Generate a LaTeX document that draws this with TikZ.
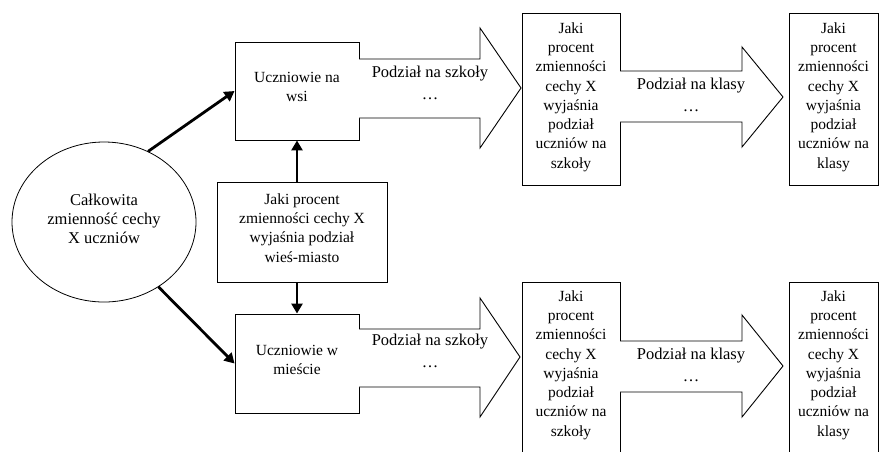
\documentclass[tikz,border=0pt]{standalone}
\usepackage{fontspec}
\setmainfont{Liberation Serif}
\usetikzlibrary{arrows.meta,shapes.geometric}
\begin{document}
\begin{tikzpicture}[x=1pt,y=-1pt,
  box/.style={draw,line width=0.9pt,inner sep=0pt},
  txt/.style={align=center,inner sep=0pt,font=\fontsize{15.5}{19.3}\selectfont},
  lbl/.style={align=center,inner sep=0pt,font=\fontsize{16.5}{22}\selectfont},
  conn/.style={line width=2.8pt,-{Triangle[length=10pt,width=11pt]}},
  blk/.style={draw,line width=0.9pt,fill=white,line join=miter}]
\useasboundingbox (0,0) rectangle (882,451);
\clip (0,0) rectangle (882,451);

% ellipse
\node[ellipse,draw,line width=0.8pt,inner sep=0pt,minimum width=184pt,minimum height=160pt] (ell) at (104,222) {};
\node[txt,font=\fontsize{16.5}{19.3}\selectfont] (ellt) at (104,219) {Całkowita\\zmienność cechy\\X uczniów};

% left column boxes
\node[box,minimum width=124pt,minimum height=98pt] (wsi) at (297,91) {};
\node[txt] (wsit) at (297,87) {Uczniowie na\\wsi};
\node[box,minimum width=170pt,minimum height=100pt] (mid) at (302,232) {};
\node[txt] (midt) at (302,228) {Jaki procent\\zmienności cechy X\\wyjaśnia podział\\wieś-miasto};
\node[box,minimum width=124pt,minimum height=99pt] (miasto) at (297,363.5) {};
\node[txt] (miastot) at (297,360) {Uczniowie w\\mieście};

% tall boxes
\node[box,minimum width=98pt,minimum height=172pt] (s1) at (571,99) {};
\node[txt] (s1t) at (571,97) {Jaki\\procent\\zmienności\\cechy X\\wyjaśnia\\podział\\uczniów na\\szkoły};
\node[box,minimum width=89pt,minimum height=172pt] (k1) at (833.5,99) {};
\node[txt] (k1t) at (833.5,97) {Jaki\\procent\\zmienności\\cechy X\\wyjaśnia\\podział\\uczniów na\\klasy};
\node[box,minimum width=98pt,minimum height=172pt] (s2) at (571,368) {};
\node[txt] (s2t) at (571,365) {Jaki\\procent\\zmienności\\cechy X\\wyjaśnia\\podział\\uczniów na\\szkoły};
\node[box,minimum width=89pt,minimum height=172pt] (k2) at (833.5,368) {};
\node[txt] (k2t) at (833.5,365) {Jaki\\procent\\zmienności\\cechy X\\wyjaśnia\\podział\\uczniów na\\klasy};

% block arrows
\draw[blk] (359,59) -- (480,59) -- (480,28) -- (521,88) -- (480,148) -- (480,118) -- (359,118);
\node[lbl] (a1) at (430,83) {Podział na szkoły\\\dots};
\draw[blk] (620,71) -- (742,71) -- (742,47) -- (783,97) -- (742,147) -- (742,122) -- (620,122);
\node[lbl] (a2) at (691,95) {Podział na klasy\\\dots};
\draw[blk] (359,329) -- (480,329) -- (480,298) -- (520,357) -- (480,417) -- (480,387) -- (359,387);
\node[lbl] (a3) at (430,351) {Podział na szkoły\\\dots};
\draw[blk] (620,341) -- (742,341) -- (742,315) -- (783,366) -- (742,417) -- (742,392) -- (620,392);
\node[lbl] (a4) at (691,365) {Podział na klasy\\\dots};

% connectors
\draw[conn] (ell.58) -- (wsi.west);
\draw[conn] (ell.-50) -- (miasto.west);
\draw[conn] (mid.north -| wsi.south) -- (wsi.south);
\draw[conn] (mid.south -| miasto.north) -- (miasto.north);
\end{tikzpicture}
\end{document}
